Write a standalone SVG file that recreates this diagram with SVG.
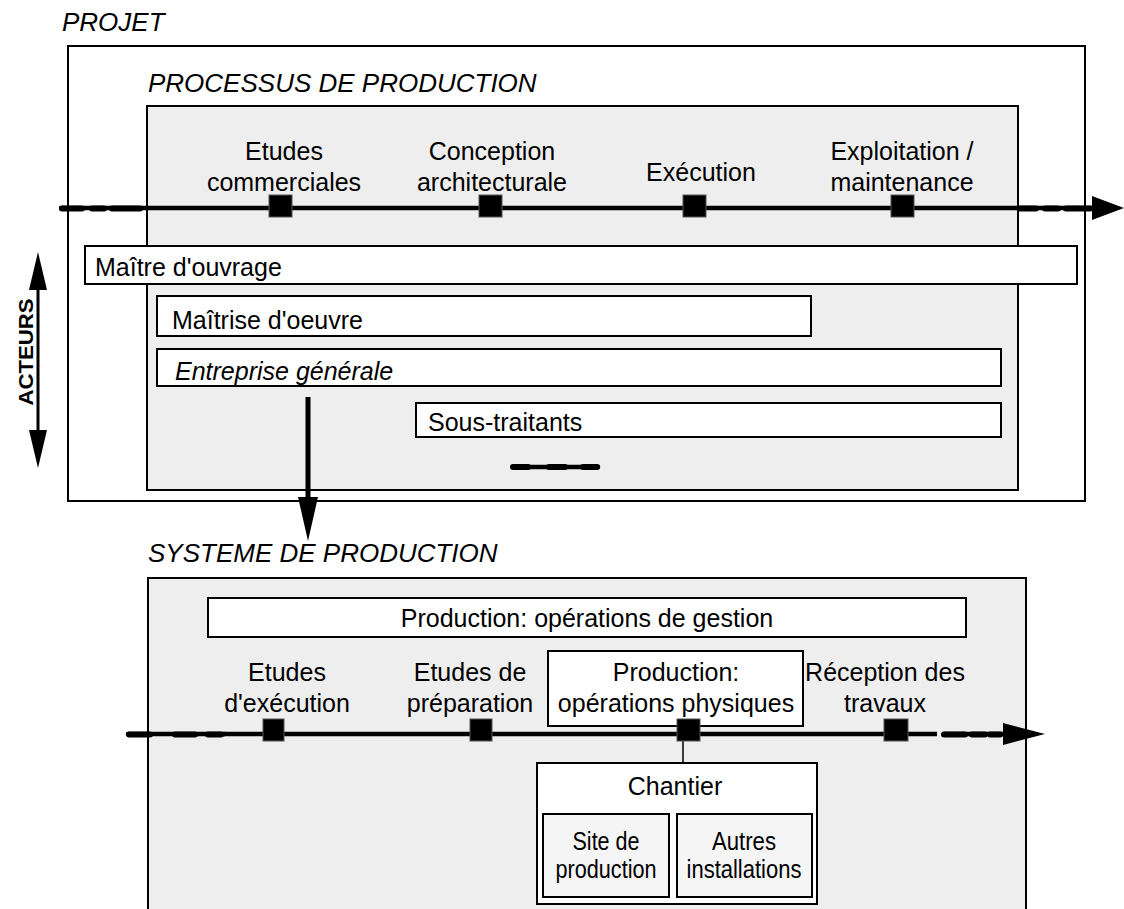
<svg xmlns="http://www.w3.org/2000/svg" width="1124" height="909" viewBox="0 0 1124 909">
<defs>
<style>
.t{font-family:"Liberation Sans",Arial,sans-serif;font-size:25px;fill:#000}
.h{font-family:"Liberation Sans",Arial,sans-serif;font-size:26px;font-style:italic;fill:#000}
.c{text-anchor:middle}
.box{fill:#fff;stroke:#000;stroke-width:2}
.gray{fill:#eeeeee;stroke:#000;stroke-width:2}
.frame{fill:#fff;stroke:#000;stroke-width:2}
.ms{fill:#000;stroke:#555;stroke-width:1}
.tl{stroke:#000;stroke-width:4.5;fill:none}
.dash{stroke:#000;stroke-width:4.5;fill:none;stroke-linecap:round}
.dsh{stroke:#000;stroke-width:6;fill:none;stroke-linecap:round}
</style>
</defs>
<rect width="1124" height="909" fill="#fff"/>

<g id="projet">
<text class="h" x="62" y="31">PROJET</text>
<rect class="frame" x="68" y="46" width="1017" height="455"/>
</g>

<g id="processus">
<text class="h" x="148" y="92">PROCESSUS DE PRODUCTION</text>
<rect class="gray" x="147" y="106" width="871" height="384"/>
</g>

<g id="connectors">
<line class="dash" x1="61" y1="208" x2="147" y2="208"/>
<line class="dsh" x1="62" y1="208.5" x2="82" y2="208.5"/>
<line class="dsh" x1="92" y1="208.5" x2="104" y2="208.5"/>
<line class="dsh" x1="112" y1="208.5" x2="140" y2="208.5"/>
<line class="tl" x1="147" y1="208" x2="1018" y2="208"/>
<line class="dash" x1="1018" y1="208" x2="1095" y2="208"/>
<line class="dsh" x1="1020" y1="208.5" x2="1036" y2="208.5"/>
<line class="dsh" x1="1045" y1="208.5" x2="1058" y2="208.5"/>
<line class="dsh" x1="1066" y1="208.5" x2="1090" y2="208.5"/>
<polygon points="1092,196 1124,208 1092,220"/>

<line x1="38" y1="280" x2="38" y2="440" stroke="#000" stroke-width="3"/>
<polygon points="38,252 47,290 29,290"/>
<polygon points="38,468 47,430 29,430"/>

<line x1="308" y1="397" x2="308" y2="502" stroke="#000" stroke-width="5"/>
<polygon points="298,497 318,497 308,541"/>

<line class="dash" x1="513" y1="467" x2="598" y2="467"/>
<line class="dsh" x1="513" y1="467" x2="528" y2="467"/>
<line class="dsh" x1="549" y1="467" x2="565" y2="467"/>
<line class="dsh" x1="583" y1="467" x2="597" y2="467"/>
</g>

<g id="jalons-haut">
<rect class="ms" x="269" y="195" width="23" height="22"/>
<rect class="ms" x="479" y="195" width="23" height="22"/>
<rect class="ms" x="683" y="195" width="23" height="22"/>
<rect class="ms" x="891" y="195" width="23" height="22"/>
</g>

<g id="etudes-commerciales">
<text class="t c" x="284" y="160">Etudes</text>
<text class="t c" x="284" y="191">commerciales</text>
</g>
<g id="conception">
<text class="t c" x="492" y="160">Conception</text>
<text class="t c" x="492" y="191">architecturale</text>
</g>
<g id="execution">
<text class="t c" x="701" y="181">Exécution</text>
</g>
<g id="exploitation">
<text class="t c" x="902" y="160">Exploitation /</text>
<text class="t c" x="902" y="191">maintenance</text>
</g>

<g id="acteurs">
<text x="0" y="0" transform="translate(33,352) rotate(-90)" text-anchor="middle" textLength="107" lengthAdjust="spacingAndGlyphs" style="font-family:'Liberation Sans',Arial,sans-serif;font-size:21px;font-weight:bold">ACTEURS</text>
</g>

<g id="maitre-ouvrage">
<rect class="box" x="85" y="246" width="992" height="38"/>
<text class="t" x="95" y="276">Maître d'ouvrage</text>
</g>
<g id="maitrise-oeuvre">
<rect class="box" x="157" y="296" width="654" height="40"/>
<text class="t" x="172" y="329">Maîtrise d'oeuvre</text>
</g>
<g id="entreprise-generale">
<rect class="box" x="157" y="349" width="844" height="37"/>
<text class="t" x="175" y="380" font-style="italic">Entreprise générale</text>
</g>
<g id="sous-traitants">
<rect class="box" x="416" y="403" width="585" height="34"/>
<text class="t" x="428" y="431">Sous-traitants</text>
</g>

<g id="systeme">
<text class="h" x="148" y="562">SYSTEME DE PRODUCTION</text>
<rect class="gray" x="148" y="578" width="878" height="340"/>
</g>

<g id="gestion">
<rect class="box" x="208" y="598" width="758" height="39"/>
<text class="t c" x="587" y="627">Production: opérations de gestion</text>
</g>

<g id="physiques">
<rect class="box" x="548" y="651" width="255" height="75"/>
<text class="t c" x="676" y="681">Production:</text>
<text class="t c" x="676" y="712">opérations physiques</text>
</g>

<g id="connectors-bas">
<line class="dash" x1="128" y1="734" x2="225" y2="734"/>
<line class="dsh" x1="129" y1="734.5" x2="150" y2="734.5"/>
<line class="dsh" x1="175" y1="734.5" x2="195" y2="734.5"/>
<line class="dsh" x1="208" y1="734.5" x2="221" y2="734.5"/>
<line class="tl" x1="223" y1="734" x2="937" y2="734"/>
<line class="dash" x1="944" y1="734" x2="1005" y2="734"/>
<line class="dsh" x1="944" y1="734.5" x2="965" y2="734.5"/>
<line class="dsh" x1="972" y1="734.5" x2="985" y2="734.5"/>
<line class="dsh" x1="990" y1="734.5" x2="1000" y2="734.5"/>
<polygon points="1003,723 1045,734 1003,745"/>
<line x1="683" y1="741" x2="683" y2="763" stroke="#000" stroke-width="1.5"/>
</g>

<g id="jalons-bas">
<rect class="ms" x="263" y="719" width="21" height="22"/>
<rect class="ms" x="470" y="719" width="22" height="22"/>
<rect class="ms" x="677" y="719" width="23" height="22"/>
<rect class="ms" x="884" y="719" width="24" height="22"/>
</g>

<g id="etudes-execution">
<text class="t c" x="287" y="681">Etudes</text>
<text class="t c" x="287" y="712">d'exécution</text>
</g>
<g id="etudes-preparation">
<text class="t c" x="470" y="681">Etudes de</text>
<text class="t c" x="470" y="712">préparation</text>
</g>
<g id="reception">
<text class="t c" x="885" y="681">Réception des</text>
<text class="t c" x="885" y="712">travaux</text>
</g>

<g id="chantier">
<rect class="box" x="537" y="763" width="280" height="141"/>
<text class="t c" x="675" y="795">Chantier</text>
</g>
<g id="site-production">
<rect x="543" y="814" width="126" height="83" fill="#f5f5f5" stroke="#000" stroke-width="2"/>
<text class="t c" x="606" y="850" textLength="67" lengthAdjust="spacingAndGlyphs" font-size="24">Site de</text>
<text class="t c" x="606" y="878" textLength="101" lengthAdjust="spacingAndGlyphs" font-size="24">production</text>
</g>
<g id="autres-installations">
<rect x="677" y="814" width="135" height="83" fill="#f5f5f5" stroke="#000" stroke-width="2"/>
<text class="t c" x="744" y="850" textLength="64" lengthAdjust="spacingAndGlyphs" font-size="24">Autres</text>
<text class="t c" x="744" y="878" textLength="115" lengthAdjust="spacingAndGlyphs" font-size="24">installations</text>
</g>
</svg>
